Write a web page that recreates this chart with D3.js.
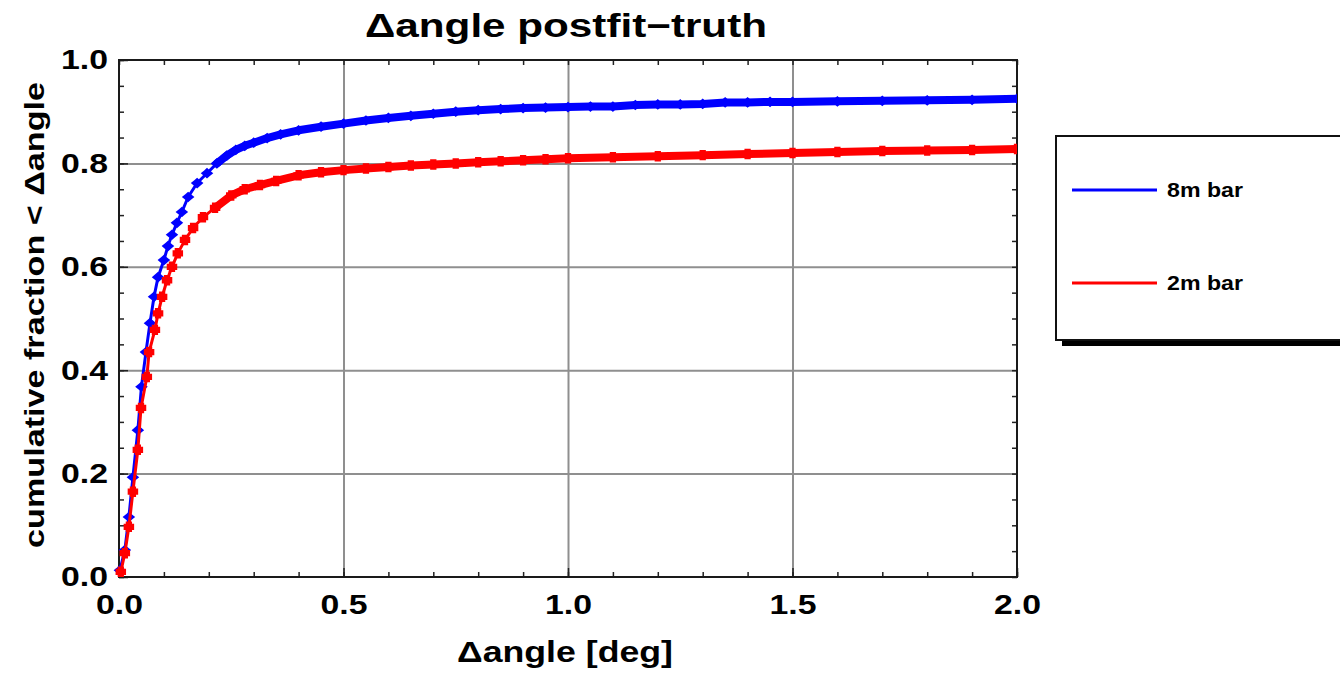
<!DOCTYPE html>
<html>
<head>
<meta charset="utf-8">
<script src="https://cdn.jsdelivr.net/npm/d3@7"></script>
<style>
  body { margin: 0; background: #fff; }
  text { font-family: "Liberation Sans", Arial, sans-serif; fill: #000; }
</style>
</head>
<body>
<div id="chart"></div>
<script>
// cumulative distributions
var angle8m = [0.002, 0.013, 0.022, 0.031, 0.042, 0.05, 0.06, 0.069, 0.078, 0.087, 0.1, 0.109, 0.118, 0.129, 0.14,
    0.154, 0.174, 0.196, 0.218, 0.24, 0.26, 0.28, 0.3, 0.33, 0.36, 0.4, 0.45, 0.5, 0.55, 0.6, 0.65, 0.7, 0.75,
    0.8, 0.85, 0.9, 0.95, 1.0, 1.05, 1.1, 1.15, 1.2, 1.25, 1.3, 1.35, 1.4, 1.45, 1.5, 1.6, 1.7, 1.8, 1.9, 2.0];
var frac8m = [0.013, 0.052, 0.116, 0.193, 0.284, 0.368, 0.435, 0.491, 0.542, 0.58, 0.613, 0.64, 0.662, 0.685, 0.706,
    0.735, 0.762, 0.781, 0.8, 0.815, 0.826, 0.834, 0.84, 0.849, 0.856, 0.864, 0.871, 0.877, 0.883, 0.888, 0.892, 0.896, 0.9,
    0.903, 0.905, 0.907, 0.908, 0.909, 0.91, 0.91, 0.913, 0.914, 0.914, 0.915, 0.918, 0.918, 0.919, 0.919, 0.92, 0.921, 0.922, 0.923, 0.925];

var angle2m = [0.004, 0.013, 0.022, 0.031, 0.042, 0.049, 0.062, 0.067, 0.08, 0.087, 0.096, 0.107, 0.118, 0.131, 0.147,
    0.165, 0.187, 0.214, 0.25, 0.28, 0.314, 0.35, 0.4, 0.45, 0.5, 0.55, 0.6, 0.65, 0.7, 0.75, 0.8, 0.85, 0.9, 0.95,
    1.0, 1.1, 1.2, 1.3, 1.4, 1.5, 1.6, 1.7, 1.8, 1.9, 2.0];
var frac2m = [0.01, 0.046, 0.097, 0.165, 0.246, 0.327, 0.387, 0.435, 0.478, 0.51, 0.542, 0.574, 0.6, 0.626, 0.652,
    0.675, 0.696, 0.714, 0.738, 0.75, 0.758, 0.766, 0.777, 0.783, 0.787, 0.79, 0.793, 0.796, 0.798, 0.8, 0.802, 0.804, 0.806, 0.808,
    0.81, 0.812, 0.814, 0.816, 0.818, 0.82, 0.822, 0.824, 0.825, 0.826, 0.828];

var seriesNames = ["8m bar", "2m bar"];
var seriesColors = ["#0000ff", "#ff0000"];
var xTicks = [0.0, 0.5, 1.0, 1.5, 2.0];
var yTicks = [0.0, 0.2, 0.4, 0.6, 0.8, 1.0];

var margin = {top: 60, right: 323, bottom: 96, left: 119},
    W = 1340, H = 673,
    width = W - margin.left - margin.right,
    height = H - margin.top - margin.bottom;

var x = d3.scaleLinear().domain([0, 2]).range([0, width]);
var y = d3.scaleLinear().domain([0, 1]).range([height, 0]);

var svg = d3.select("#chart").append("svg")
    .attr("width", W)
    .attr("height", H);
svg.append("rect").attr("width", W).attr("height", H).attr("fill", "#fff");

var g = svg.append("g")
    .attr("transform", "translate(" + margin.left + "," + margin.top + ")");

// stretch text to the wide lettering of the original
function stretch(sel, len) {
    sel.attr("textLength", len).attr("lengthAdjust", "spacingAndGlyphs");
}

// grid lines
g.append("g")
    .attr("class", "grid")
    .attr("transform", "translate(0," + height + ")")
    .call(d3.axisBottom(x).tickValues(xTicks.slice(1, -1)).tickSize(-height).tickFormat(""));
g.append("g")
    .attr("class", "grid")
    .call(d3.axisLeft(y).tickValues(yTicks.slice(1, -1)).tickSize(-width).tickFormat(""));
g.selectAll(".grid .domain").remove();
g.selectAll(".grid line").attr("stroke", "#8f8f8f").attr("stroke-width", 2);

// minor and major ticks pointing inward, all four sides
var minorX = d3.range(0, 21).map(function (i) { return i / 10; });
var minorY = d3.range(0, 21).map(function (i) { return i / 20; });
function tickAxis(axis, vals, size, tr) {
    var a = g.append("g").attr("class", "ticks").attr("transform", tr)
        .call(axis.tickValues(vals).tickSize(-size).tickFormat(""));
    a.select(".domain").remove();
    a.selectAll("line").attr("stroke", "#222").attr("stroke-width", 1.5);
}
tickAxis(d3.axisBottom(x), minorX, 5, "translate(0," + height + ")");
tickAxis(d3.axisTop(x), minorX, 5, "translate(0,0)");
tickAxis(d3.axisLeft(y), minorY, 5, "translate(0,0)");
tickAxis(d3.axisRight(y), minorY, 5, "translate(" + width + ",0)");
tickAxis(d3.axisBottom(x), xTicks, 9, "translate(0," + height + ")");
tickAxis(d3.axisLeft(y), yTicks, 9, "translate(0,0)");

// tick labels
var xAxis = g.append("g")
    .attr("transform", "translate(0," + height + ")")
    .call(d3.axisBottom(x).tickValues(xTicks).tickSize(0).tickPadding(17).tickFormat(d3.format(".1f")));
var yAxis = g.append("g")
    .call(d3.axisLeft(y).tickValues(yTicks).tickSize(0).tickPadding(11).tickFormat(d3.format(".1f")));
[xAxis, yAxis].forEach(function (a) {
    a.select(".domain").remove();
    a.selectAll("text")
        .style("font-family", "'Liberation Sans', Arial, sans-serif")
        .style("font-size", "28px")
        .style("font-weight", "bold")
        .attr("fill", "#000")
        .call(stretch, 47);
});

// plot frame
g.append("rect")
    .attr("width", width)
    .attr("height", height)
    .attr("fill", "none")
    .attr("stroke", "#1a1a1a")
    .attr("stroke-width", 2);

// curves
g.append("clipPath").attr("id", "clip")
    .append("rect").attr("x", -6).attr("y", -6).attr("width", width + 6).attr("height", height + 6);

// four-point star (8m bar) and fat plus (2m bar) markers
var star4 = {
    draw: function (context, size) {
        var r = Math.sqrt(size) * 0.6, k = r * 0.45;
        context.moveTo(r, 0);
        context.lineTo(k, k);
        context.lineTo(0, r * 0.85);
        context.lineTo(-k, k);
        context.lineTo(-r, 0);
        context.lineTo(-k, -k);
        context.lineTo(0, -r * 0.85);
        context.lineTo(k, -k);
        context.closePath();
    }
};
var plus = {
    draw: function (context, size) {
        var r = Math.sqrt(size) * 0.5, a = r * 0.6;
        context.moveTo(-a, -r);
        context.lineTo(a, -r);
        context.lineTo(a, -a);
        context.lineTo(r, -a);
        context.lineTo(r, a);
        context.lineTo(a, a);
        context.lineTo(a, r);
        context.lineTo(-a, r);
        context.lineTo(-a, a);
        context.lineTo(-r, a);
        context.lineTo(-r, -a);
        context.lineTo(-a, -a);
        context.closePath();
    }
};

var series = [
    {xs: angle8m, ys: frac8m, color: seriesColors[0], symbol: star4, size: 110},
    {xs: angle2m, ys: frac2m, color: seriesColors[1], symbol: plus, size: 110}
];

var line = d3.line()
    .x(function (d) { return x(d[0]); })
    .y(function (d) { return y(d[1]); });

var plot = g.append("g").attr("clip-path", "url(#clip)");
series.forEach(function (s) {
    var pts = s.xs.map(function (v, i) { return [v, s.ys[i]]; });
    // thin connecting line, markers merge into a thick band on the flat tail
    plot.append("path")
        .datum(pts)
        .attr("d", line)
        .attr("fill", "none")
        .attr("stroke", s.color)
        .attr("stroke-width", 3)
        .attr("stroke-linejoin", "round");
    plot.append("path")
        .datum(pts.filter(function (d) { return d[0] >= 0.2; }))
        .attr("d", line)
        .attr("fill", "none")
        .attr("stroke", s.color)
        .attr("stroke-width", 8)
        .attr("stroke-linejoin", "round")
        .attr("stroke-linecap", "round");
    plot.selectAll(null)
        .data(pts)
        .enter().append("path")
        .attr("transform", function (d) { return "translate(" + x(d[0]) + "," + y(d[1]) + ")"; })
        .attr("d", d3.symbol().type(s.symbol).size(s.size))
        .attr("fill", s.color);
});

// title and axis labels
svg.append("text")
    .attr("x", 566)
    .attr("y", 37)
    .attr("text-anchor", "middle")
    .style("font-size", "33px")
    .style("font-weight", "bold")
    .text("\u0394angle postfit\u2212truth")
    .call(stretch, 402);

svg.append("text")
    .attr("x", 565)
    .attr("y", 662)
    .attr("text-anchor", "middle")
    .style("font-size", "29px")
    .style("font-weight", "bold")
    .text("\u0394angle [deg]")
    .call(stretch, 216);

svg.append("text")
    .attr("transform", "translate(44," + 315 + ") rotate(-90)")
    .attr("text-anchor", "middle")
    .style("font-size", "28px")
    .style("font-weight", "bold")
    .text("cumulative fraction < \u0394angle")
    .call(stretch, 466);

// legend
var leg = svg.append("g").attr("transform", "translate(1056,136)");
leg.append("rect")
    .attr("x", 6).attr("y", 6).attr("width", 300).attr("height", 204)
    .attr("fill", "#000");
leg.append("rect")
    .attr("width", 300).attr("height", 204)
    .attr("fill", "#fff")
    .attr("stroke", "#111")
    .attr("stroke-width", 2);
seriesNames.forEach(function (name, i) {
    var ly = 54 + i * 93;
    leg.append("line")
        .attr("x1", 16).attr("x2", 101)
        .attr("y1", ly).attr("y2", ly)
        .attr("stroke", seriesColors[i])
        .attr("stroke-width", 3);
    leg.append("text")
        .attr("x", 111).attr("y", ly + 7)
        .style("font-size", "20px")
        .style("font-weight", "bold")
        .text(name)
        .call(stretch, 76);
});
</script>
</body>
</html>
